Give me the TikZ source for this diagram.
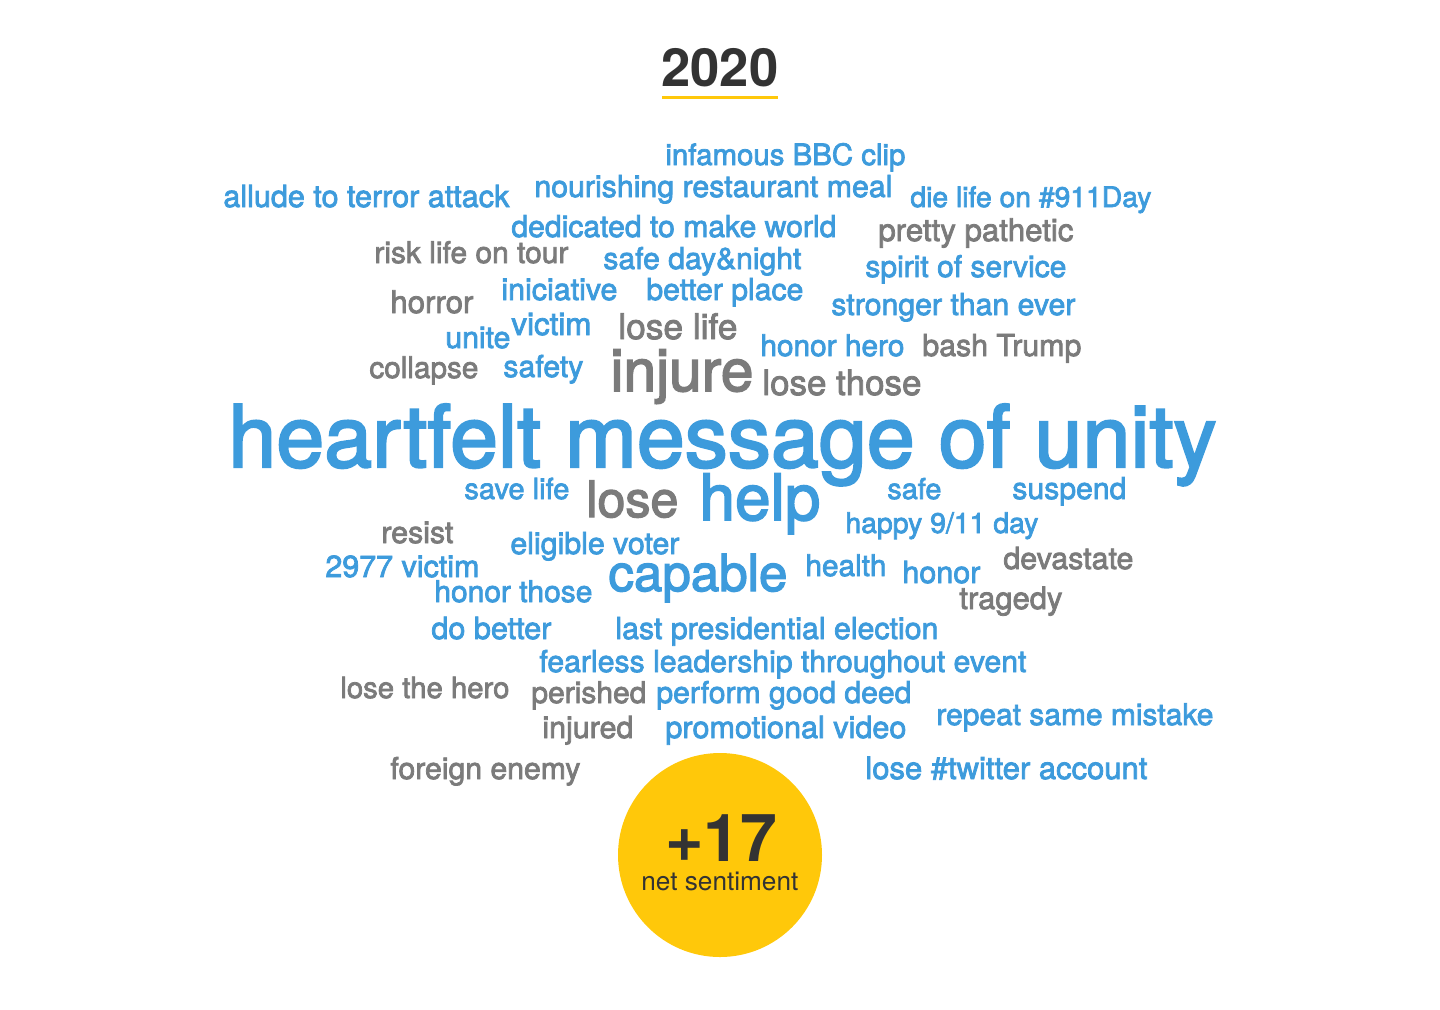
\documentclass[tikz,border=0pt]{standalone}
\usepackage{fontspec}
\setmainfont{TeX Gyre Heros}
\newfontfamily\wordfont{TeX Gyre Heros}[FakeBold=2.5]
\usepackage{graphicx}
\definecolor{wblue}{HTML}{3D9BDC}
\definecolor{wgray}{HTML}{7B7B7B}
\definecolor{wdark}{HTML}{333333}
\definecolor{wyellow}{HTML}{FFC80A}
\newlength{\pxu}
\setlength{\pxu}{0.5pt}
\newcommand{\W}[2]{\resizebox{#1\pxu}{!}{#2}}
\begin{document}
\begin{tikzpicture}[x=0.5pt,y=-0.5pt,
    word/.style={anchor=base west,inner sep=0pt,font=\wordfont},
    posword/.style={word,text=wblue},
    negword/.style={word,text=wgray}]
  \useasboundingbox (0,0) rectangle (1440,1009);
  % title
  \draw
    (661,86) node[word,font=\rmfamily,text=wdark] (year){\W{117}{\bfseries 2020}};
  \draw[wyellow,line width=1.5pt] (662,97) -- (778,97);
  % word cloud
  \draw
    (665,165) node[posword] (bbc){\W{240}{infamous BBC clip}}
    (534,197) node[posword] (meal){\W{358}{nourishing restaurant meal}}
    (223,207) node[posword] (allude){\W{286}{allude to terror attack}}
    (910,207) node[posword] (day911){\W{241}{die life on \#911Day}}
    (511,237) node[posword] (world){\W{325}{dedicated to make world}}
    (878,241) node[negword] (pathetic){\W{195}{pretty pathetic}}
    (374,263) node[negword] (tour){\W{194}{risk life on tour}}
    (603,269) node[posword] (daynight){\W{198}{safe day\&night}}
    (865,277) node[posword] (spirit){\W{201}{spirit of service}}
    (390,313) node[negword] (horror){\W{83}{horror}}
    (501,300) node[posword] (iniciative){\W{116}{iniciative}}
    (646,300) node[posword] (place){\W{157}{better place}}
    (831,315) node[posword] (stronger){\W{244}{stronger than ever}}
    (445,348) node[posword] (unite){\W{65}{unite}}
    (511,335) node[posword] (victim){\W{80}{victim}}
    (618,339) node[negword] (loselife){\W{119}{lose life}}
    (760,356) node[posword] (honorhero){\W{144}{honor hero}}
    (922,356) node[negword] (trump){\W{159}{bash Trump}}
    (369,378) node[negword] (collapse){\W{109}{collapse}}
    (503,377) node[posword] (safety){\W{80}{safety}}
    (610,391) node[negword] (injure){\W{143}{injure}}
    (762,395) node[negword] (losethose){\W{159}{lose those}}
    (228,467) node[posword] (unity){\W{988}{heartfelt message of unity}}
    (464,499) node[posword] (savelife){\W{105}{save life}}
    (586,517) node[negword] (lose){\W{92}{lose}}
    (699,520) node[posword] (help){\W{121}{help}}
    (887,499) node[posword] (safe){\W{54}{safe}}
    (1012,499) node[posword] (suspend){\W{114}{suspend}}
    (845,533) node[posword] (happy){\W{193}{happy 9/11 day}}
    (381,543) node[negword] (resist){\W{72}{resist}}
    (510,554) node[posword] (voter){\W{169}{eligible voter}}
    (325,577) node[posword] (victim2977){\W{154}{2977 victim}}
    (608,591) node[posword] (capable){\W{179}{capable}}
    (805,576) node[posword] (health){\W{81}{health}}
    (902,583) node[posword] (honor){\W{78}{honor}}
    (1003,569) node[negword] (devastate){\W{130}{devastate}}
    (434,602) node[posword] (honorthose){\W{158}{honor those}}
    (959,609) node[negword] (tragedy){\W{103}{tragedy}}
    (431,639) node[posword] (dobetter){\W{120}{do better}}
    (615,639) node[posword] (election){\W{323}{last presidential election}}
    (539,672) node[posword] (fearless){\W{487}{fearless leadership throughout event}}
    (340,698) node[negword] (losehero){\W{169}{lose the hero}}
    (531,703) node[negword] (perished){\W{115}{perished}}
    (656,703) node[posword] (deed){\W{255}{perform good deed}}
    (542,738) node[negword] (injured){\W{91}{injured}}
    (665,738) node[posword] (video){\W{241}{promotional video}}
    (936,725) node[posword] (mistake){\W{277}{repeat same mistake}}
    (390,779) node[negword] (enemy){\W{190}{foreign enemy}}
    (865,779) node[posword] (twitter){\W{282}{lose \#twitter account}};
  % sentiment badge
  \draw
    (720,855) node[circle,fill=wyellow,inner sep=0pt,minimum size=102pt] (badge){}
    (665,861) node[word,font=\rmfamily,text=wdark] (score){\W{112}{\bfseries +17}}
    (641,890) node[word,font=\rmfamily,text=wdark] (net){\W{157}{net sentiment}};
\end{tikzpicture}
\end{document}
